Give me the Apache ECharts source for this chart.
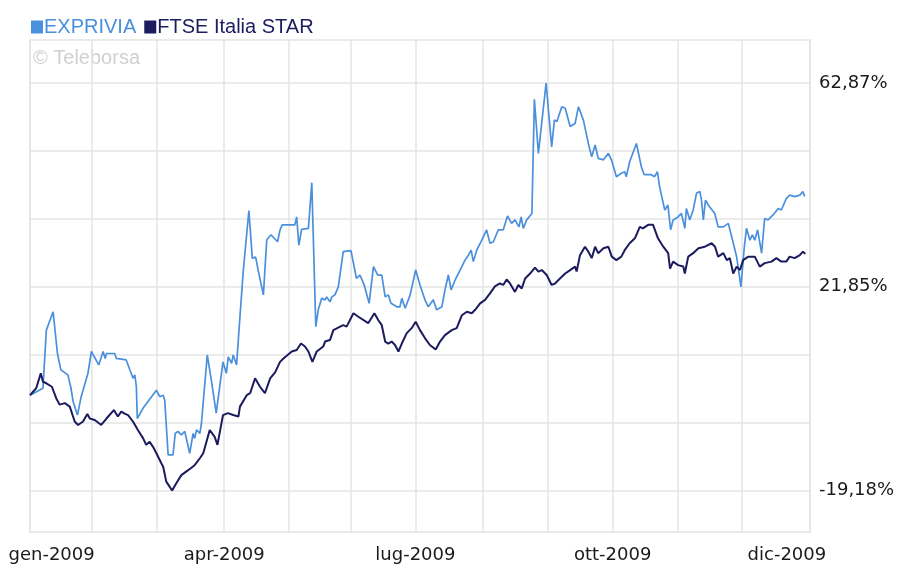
<!DOCTYPE html>
<html>
<head>
<meta charset="utf-8">
<script src="https://cdn.jsdelivr.net/npm/echarts@6.0.0/dist/echarts.min.js"></script>
<style>
  html, body { margin: 0; padding: 0; background: #fff; }
  #chart { width: 898px; height: 565px; }
</style>
</head>
<body>
<div id="chart"></div>
<script>
// x = trading session of 2009 (0 = first session), y = % change since start
const seriesNames = ['EXPRIVIA', 'FTSE Italia STAR'];
const seriesColors = ['#4a90dc', '#1b1b5e'];

const exprivia = [
  [0,0],[4.2,1.4],[4.8,1.7],[5.3,13.1],[7.5,16.8],[8.9,8.4],[9.3,8.1],[10,5.1],[12.3,4.1],[13.2,1.7],
  [14,-1.3],[15.4,-4],[16.6,-0.3],[17.2,-0.6],[18.8,4.4],[19.9,8.8],[22.3,6.1],[23.7,8.8],[24.4,7.4],[24.8,8.4],
  [27.5,8.4],[28,7.4],[31.2,7.1],[33.4,3.4],[34,4.1],[34.5,1.7],[34.8,-4.7],[36.7,-2.6],[41,1],[42.1,-0.3],
  [43.2,0],[43.7,-1],[44.8,-12],[46.4,-12],[47.1,-7.7],[48,-7.3],[49.1,-8],[50.2,-7.3],[51.8,-11.7],[52.9,-7.7],
  [53.4,-8.7],[54,-7],[55.1,-7.7],[55.6,-5.7],[57.5,8.1],[58.8,3.1],[60.4,-3.6],[62.6,6.7],[63.7,4.4],[64.3,7.7],
  [65.4,6.4],[65.9,8.1],[67,6.1],[68.1,15.8],[69.2,25.2],[71,37.2],[72.1,27.6],[73.2,27.8],[74,25.2],[75.7,20.2],
  [76.8,31.3],[78.2,32.3],[79.2,31.6],[80.3,30.9],[81.1,33.3],[81.8,34.3],[85.9,34.3],[86.5,35.9],[87.2,30.2],[88.1,33.4],
  [90.3,33.6],[91.4,42.8],[92.7,13.8],[93.5,17.2],[94.6,19.5],[95.7,19.2],[96.2,19.8],[97.3,18.8],[97.9,19.8],[98.9,20.2],
  [100,21.8],[101.6,28.9],[104.1,29.1],[105.9,23.5],[107,24.2],[108.4,22.2],[110,18.5],[111.4,25.9],[112.8,24.2],[114.1,24.2],
  [115.2,19.8],[116.2,20.2],[117.1,18.5],[119,17.8],[120,17.8],[120.6,19.5],[121.7,17.5],[123.3,20.2],[125.1,25.2],[126.5,22.2],
  [128.1,19.2],[129.2,17.8],[130.8,19.2],[131.9,17.2],[133.6,17.8],[134.6,21.2],[135.7,24.2],[136.6,21.2],[137.9,23.2],[139.5,25.2],
  [140.1,24.9],[141.1,27.2],[142.2,28.2],[143.1,29.2],[143.8,26.9],[144.9,29.2],[146.5,31.2],[148.1,33.3],[149.2,30.6],[150.3,30.9],
  [151.9,33.3],[153.5,33.3],[154.9,36.1],[156.2,34.6],[157.3,35.3],[158.6,33.9],[159.3,35.9],[160,33.6],[161.1,35.3],[162.8,36.6],
  [163.6,59.6],[164.9,48.7],[167.4,62.87],[169.2,50],[170.1,55.4],[170.9,55.1],[172.5,58.1],[173.6,57.8],[175.2,54.1],[176.8,54.7],
  [177.9,58.1],[179.5,55.4],[181.1,50.7],[182.2,48],[183.3,50.4],[184.3,47.7],[186,47.4],[187.6,48.7],[188.6,47.4],[190.2,44],
  [191.8,44.7],[192.9,45],[193.4,44],[194.5,47],[196.7,50.7],[198.3,46],[199.2,44.4],[201.5,44.4],[202.6,44],[203.5,45],
  [204.2,42],[205.9,37.3],[206.9,38.3],[207.8,33.3],[208.6,35.3],[209.1,35.3],[210.2,35.9],[211.3,36.6],[212.4,33.6],[212.9,37.6],
  [214,35.3],[215.1,37.3],[216.2,40.7],[217.3,41],[217.8,39.3],[218.4,35.3],[219.1,39.3],[220,38.3],[222.1,36.6],[223.2,33.9],
  [224.9,33.9],[226.5,34.6],[227.6,31.9],[229.2,27.9],[230.6,21.8],[231.7,29.9],[232.4,33.6],[233.5,31.2],[234.3,32.3],[235.1,31.2],
  [236,33.3],[237.3,28.6],[238.3,35.6],[239.4,35.3],[241,36.3],[242.7,37.6],[243.7,37.3],[245.3,39.6],[246.4,40.3],[248,40],
  [249.7,40.3],[250.7,41],[251.3,40]
];

const ftseStar = [
  [0,0],[2,1.4],[3.5,4.4],[4.2,2.7],[5.3,2.4],[7.1,1.7],[8.5,-0.6],[9.6,-1.9],[11.3,-1.6],[12.9,-2.3],
  [14.5,-5.3],[15.6,-6],[17.2,-5.3],[18.6,-3.8],[19.4,-4.7],[21,-5],[23.1,-6],[24.8,-4.7],[27.2,-3],[28.5,-4.3],
  [29.6,-3.3],[30.7,-3.7],[31.8,-4],[33.4,-5.3],[35,-7],[36.7,-8.7],[37.7,-10],[38.8,-9.4],[39.9,-10.4],[41,-11.7],
  [42.6,-13.7],[43.2,-14.4],[44.2,-17.4],[46.1,-19.18],[47.5,-17.7],[49.1,-16.1],[51.3,-15.1],[53.4,-14.1],[55.1,-12.7],[56.2,-11.7],
  [58.3,-7],[59.9,-8.4],[60.8,-10],[62.6,-4],[64.2,-3.6],[65.9,-4],[67.6,-4.3],[68.1,-2.3],[70.3,0],[71.4,0.4],
  [73,3.4],[74.6,1.7],[76.2,0.4],[77.9,3.4],[79.5,4.6],[81.1,6.7],[82.2,7.4],[84.9,8.8],[86.5,9.1],[87.9,10.4],
  [89.2,9.8],[90.3,8.8],[91.6,6.7],[93,8.8],[95.1,9.8],[95.7,10.8],[97.3,11.1],[98.4,13.1],[100.6,13.8],[101.6,14.1],
  [102.7,13.8],[104.9,16.5],[106.5,15.8],[109.7,14.5],[111.7,16.5],[113,15.1],[114.1,14.1],[115.2,10.8],[116.2,10.4],[117.3,10.8],
  [118.4,10.1],[119.5,8.8],[120.6,10.4],[122.2,12.5],[123.8,13.5],[125.1,14.8],[126.5,13.1],[128.1,11.5],[129.7,10.1],[131.6,9.2],
  [133,10.8],[134.6,12.1],[136.8,13.1],[138.4,13.5],[140.1,16.1],[141.7,16.8],[143.3,16.5],[144.4,17.2],[146,18.5],[147.6,19.2],
  [149.2,20.5],[150.8,21.9],[152.4,22.5],[153.5,22.2],[154.6,23.3],[155.7,22.5],[157.3,20.8],[158.4,22.2],[159.5,21.5],[160.6,23.5],
  [162.2,24.5],[163.8,25.7],[164.9,24.9],[166,25.2],[167.6,24.2],[169.2,22.2],[170.3,22.5],[171.9,23.5],[173.6,24.5],[175.2,25.2],
  [176.8,25.9],[177.3,24.9],[178.4,28.2],[180,29.9],[181.1,28.9],[182.2,27.6],[183.3,29.9],[184.3,28.6],[186,29.6],[187.6,29.9],
  [188.7,27.9],[190.2,27.2],[191.8,27.9],[192.9,29.2],[194.5,30.6],[196.2,31.6],[197.8,33.9],[198.8,33.6],[200.5,34.3],[202.1,34.3],
  [203.7,31.6],[205.4,29.9],[207,28.6],[207.6,25.5],[208.6,26.9],[210.2,26.2],[211.9,25.9],[212.4,24.5],[213.5,27.9],[215.1,28.6],
  [216.8,29.6],[218.9,29.9],[221.1,30.6],[222.2,29.9],[223.2,27.9],[224.9,28.6],[226,27.2],[227,27.6],[228.1,24.5],[229.2,25.9],
  [230.3,25.2],[231.3,27.2],[233,27.9],[235.1,27.9],[236.7,25.9],[238.3,26.6],[240.5,26.9],[242.1,27.6],[243.7,26.9],[245.3,26.9],
  [246.4,27.9],[248,27.6],[249.7,28.2],[250.7,28.9],[251.5,28.5]
];

// session index where each month begins (gridlines), last = end of year
const monthStarts = [0, 20, 41, 63, 84, 104, 125, 147, 168, 189, 210, 231, 253];
const xLabelNames = ['gen-2009', 'apr-2009', 'lug-2009', 'ott-2009', 'dic-2009'];
const xLabelAt = [7, 63, 125, 189, 245.5];

const yGridValues = [62.87, 49.19, 35.52, 21.85, 8.17, -5.5, -19.18];
const yLabelValues = [62.87, 21.85, -19.18];

const chart = echarts.init(document.getElementById('chart'), null, { renderer: 'canvas' });

const option = {
  animation: false,
  backgroundColor: '#fff',
  textStyle: { fontFamily: 'DejaVu Sans' },
  legend: {
    left: 26,
    top: 12,
    icon: 'rect',
    itemWidth: 12,
    itemHeight: 13,
    itemGap: 8,
    selectedMode: false,
    textStyle: { fontFamily: 'Liberation Sans', fontSize: 20, padding: [0, 0, 0, -4] },
    data: seriesNames.map((n, i) => ({ name: n, textStyle: { color: seriesColors[i] } }))
  },
  graphic: [{
    type: 'text',
    left: 33,
    top: 48,
    style: { text: '\u00a9 Teleborsa', fill: '#d0d0d0', font: '20px "Liberation Sans"' }
  }],
  grid: {
    left: 30, right: 88, top: 40, bottom: 33,
    show: true, borderColor: '#e4e4e4', borderWidth: 1.5
  },
  xAxis: {
    type: 'value',
    min: 0,
    max: 253,
    axisLine: { show: false },
    axisTick: { show: false, customValues: monthStarts },
    splitLine: { show: true, lineStyle: { color: '#e4e4e4', width: 1.5 } },
    axisLabel: {
      customValues: xLabelAt,
      margin: 14,
      color: '#1a1a1a',
      fontFamily: 'DejaVu Sans',
      fontSize: 18,
      formatter: (v) => xLabelNames[xLabelAt.indexOf(v)] || ''
    }
  },
  yAxis: {
    type: 'value',
    position: 'right',
    min: -27.55,
    max: 71.53,
    axisLine: { show: false },
    axisTick: { show: false, customValues: yGridValues },
    splitLine: { show: true, lineStyle: { color: '#e4e4e4', width: 1.5 } },
    axisLabel: {
      customValues: yLabelValues,
      margin: 9,
      color: '#1a1a1a',
      fontFamily: 'DejaVu Sans',
      fontSize: 18,
      padding: [8, 0, 0, 0],
      formatter: (v) => v.toFixed(2).replace('.', ',') + '%'
    }
  },
  series: [
    {
      name: seriesNames[0],
      type: 'line',
      data: exprivia,
      symbol: 'none',
      color: seriesColors[0],
      lineStyle: { width: 1.7, color: seriesColors[0] },
      z: 2
    },
    {
      name: seriesNames[1],
      type: 'line',
      data: ftseStar,
      symbol: 'none',
      color: seriesColors[1],
      lineStyle: { width: 2, color: seriesColors[1] },
      z: 3
    }
  ]
};

chart.setOption(option);
</script>
</body>
</html>
